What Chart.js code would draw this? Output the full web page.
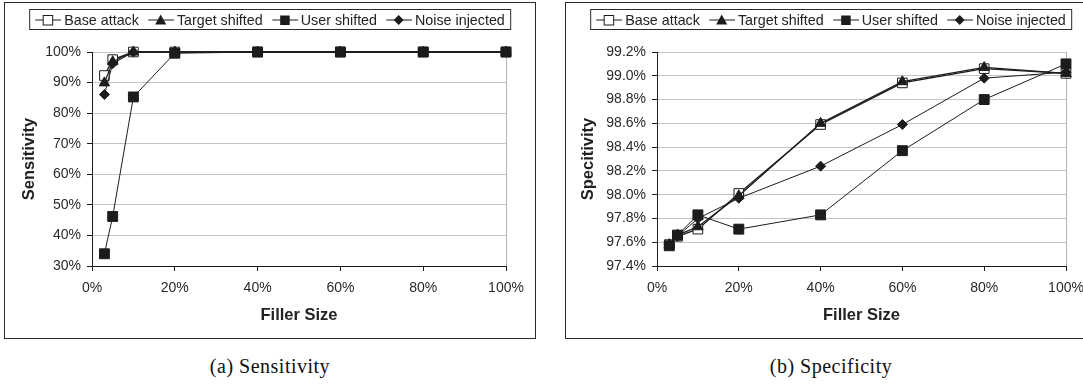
<!DOCTYPE html>
<html><head><meta charset="utf-8">
<script src="https://cdn.jsdelivr.net/npm/chart.js@4.4.1/dist/chart.umd.min.js"></script>
<style>
html,body{margin:0;padding:0;background:#fff;width:1083px;height:385px;overflow:hidden;position:relative;}
.frame{position:absolute;top:2px;width:530px;height:335px;border:1px solid #2a2a2a;background:#fff;}
.legend{position:absolute;top:6px;left:50%;transform:translateX(-50%);border:1px solid #2a2a2a;height:19px;display:flex;align-items:center;font:14.3px "Liberation Sans",Arial,sans-serif;color:#222;white-space:nowrap;padding:0 5px;}
.legend .item{display:flex;align-items:center;margin-right:9px}
.legend .item:last-child{margin-right:0}
.legend svg{margin-right:3px;display:block}
.caption{position:absolute;top:355px;width:532px;text-align:center;font:20px "Liberation Serif","Times New Roman",serif;letter-spacing:0.5px;color:#111;}
canvas{position:absolute;left:0;top:0;}
</style></head>
<body>
<div class="frame" id="f1" style="left:4px"><canvas id="c1" width="530" height="335"></canvas><div class="legend" id="l1"></div></div>
<div class="frame" id="f2" style="left:565px"><canvas id="c2" width="530" height="335"></canvas><div class="legend" id="l2"></div></div>
<div class="caption" style="left:4px">(a) Sensitivity</div>
<div class="caption" style="left:565px">(b) Specificity</div>
<script>
// ---- data ----
const fillerSizes = [3, 5, 10, 20, 40, 60, 80, 100];
const seriesNames = ['Base attack', 'Target shifted', 'User shifted', 'Noise injected'];

const sensBase   = [92.3, 97.5, 100, 100, 100, 100, 100, 100];
const sensTarget = [89.9, 96.8, 100, 100, 100, 100, 100, 100];
const sensUser   = [34.0, 46.2, 85.3, 99.6, 100, 100, 100, 100];
const sensNoise  = [86.1, 96.2, 100, 100, 100, 100, 100, 100];

const specBase   = [97.58, 97.65, 97.71, 98.01, 98.59, 98.94, 99.06, 99.02];
const specTarget = [97.58, 97.66, 97.73, 97.99, 98.60, 98.95, 99.07, 99.02];
const specUser   = [97.57, 97.66, 97.83, 97.71, 97.83, 98.37, 98.80, 99.10];
const specNoise  = [97.58, 97.65, 97.80, 97.97, 98.24, 98.59, 98.98, 99.03];

const xTicks = [0, 20, 40, 60, 80, 100];
const sensTicks = [30, 40, 50, 60, 70, 80, 90, 100];
const specTicks = [97.4, 97.6, 97.8, 98.0, 98.2, 98.4, 98.6, 98.8, 99.0, 99.2];

// ---- styling ----
const INK = '#1c1c1c';
const FONT = '"Liberation Sans", Arial, sans-serif';
const styles = [
  {pointStyle: 'rect', pointRadius: 6.8, backgroundColor: '#fff', borderWidth: 1.3, order: 4},
  {pointStyle: 'triangle', pointRadius: 6, backgroundColor: INK, borderWidth: 1.3, order: 3},
  {pointStyle: 'rect', pointRadius: 7, backgroundColor: INK, borderWidth: 1, order: 2},
  {pointStyle: 'rectRot', pointRadius: 5, backgroundColor: INK, borderWidth: 1, order: 1},
];

function makeDatasets(list) {
  return list.map((vals, i) => ({
    label: seriesNames[i],
    data: fillerSizes.map((x, j) => ({x: x, y: vals[j]})),
    borderColor: INK,
    borderWidth: styles[i].borderWidth,
    pointStyle: styles[i].pointStyle,
    pointRadius: styles[i].pointRadius,
    pointBackgroundColor: styles[i].backgroundColor,
    pointBorderColor: INK,
    pointBorderWidth: 1,
    order: styles[i].order,
    clip: false,
    tension: 0,
    fill: false,
  }));
}

function makeChart(id, lists, cfg) {
  return new Chart(document.getElementById(id), {
    type: 'line',
    data: {datasets: makeDatasets(lists)},
    options: {
      responsive: false, animation: false, devicePixelRatio: 1, events: [],
      layout: {padding: {top: 49, right: cfg.rightPad, left: 0, bottom: 0}},
      plugins: {legend: {display: false}, tooltip: {enabled: false}},
      scales: {
        x: {
          type: 'linear', min: 0, max: 100,
          afterBuildTicks: s => { s.ticks = xTicks.map(v => ({value: v})); },
          afterFit: s => { s.height = 72; },
          ticks: {font: {family: FONT, size: 14}, color: '#2a2a2a', padding: 9, maxRotation: 0,
                  callback: v => v + '%'},
          grid: {drawOnChartArea: true, drawTicks: true, tickLength: 5, tickColor: INK, lineWidth: 1,
                 color: c => (c.tick && c.tick.value === 100) ? '#b4b4b4' : 'rgba(0,0,0,0)'},
          border: {display: true, color: INK, width: 1},
          title: {display: true, text: 'Filler Size', color: '#222',
                  font: {family: FONT, size: 16.5, weight: 'bold'}, padding: {top: 0, bottom: 13}}
        },
        y: {
          type: 'linear', min: cfg.min, max: cfg.max,
          afterBuildTicks: s => { s.ticks = cfg.yTicks.map(v => ({value: v})); },
          afterFit: s => { s.width = cfg.yWidth; },
          ticks: {font: {family: FONT, size: 14}, color: '#2a2a2a', padding: 6,
                  callback: cfg.fmt},
          grid: {color: '#c4c4c4', lineWidth: 1, drawTicks: true, tickLength: 5, tickColor: INK},
          border: {display: true, color: INK, width: 1},
          title: {display: true, text: cfg.title, color: '#222',
                  font: {family: FONT, size: 16.5, weight: 'bold'}, padding: {top: cfg.titlePad, bottom: 0}}
        }
      }
    }
  });
}

makeChart('c1', [sensBase, sensTarget, sensUser, sensNoise],
  {min: 30, max: 100, yTicks: sensTicks, fmt: v => Math.round(v) + '%', title: 'Sensitivity',
   yWidth: 87, rightPad: 29, titlePad: 15});
makeChart('c2', [specBase, specTarget, specUser, specNoise],
  {min: 97.4, max: 99.2, yTicks: specTicks, fmt: v => v.toFixed(1) + '%', title: 'Specitivity',
   yWidth: 91, rightPad: 30, titlePad: 13});

// ---- legends (HTML, real text) ----
function markerSvg(i) {
  let m = '';
  if (i === 0) m = '<rect x="8" y="2.5" width="9.5" height="9.5" fill="#fff" stroke="' + INK + '" stroke-width="1"/>';
  if (i === 1) m = '<polygon points="12.5,1.5 18,11.5 7,11.5" fill="' + INK + '"/>';
  if (i === 2) m = '<rect x="8" y="2.5" width="9.5" height="9.5" fill="' + INK + '"/>';
  if (i === 3) m = '<polygon points="12.5,2 17.5,7 12.5,12 7.5,7" fill="' + INK + '"/>';
  return '<svg width="26" height="14" viewBox="0 0 26 14"><line x1="0" y1="7" x2="26" y2="7" stroke="' + INK + '" stroke-width="1"/>' + m + '</svg>';
}
['l1', 'l2'].forEach(id => {
  const el = document.getElementById(id);
  el.innerHTML = seriesNames.map((n, i) => '<span class="item">' + markerSvg(i) + '<span>' + n + '</span></span>').join('');
});
</script>
</body></html>
